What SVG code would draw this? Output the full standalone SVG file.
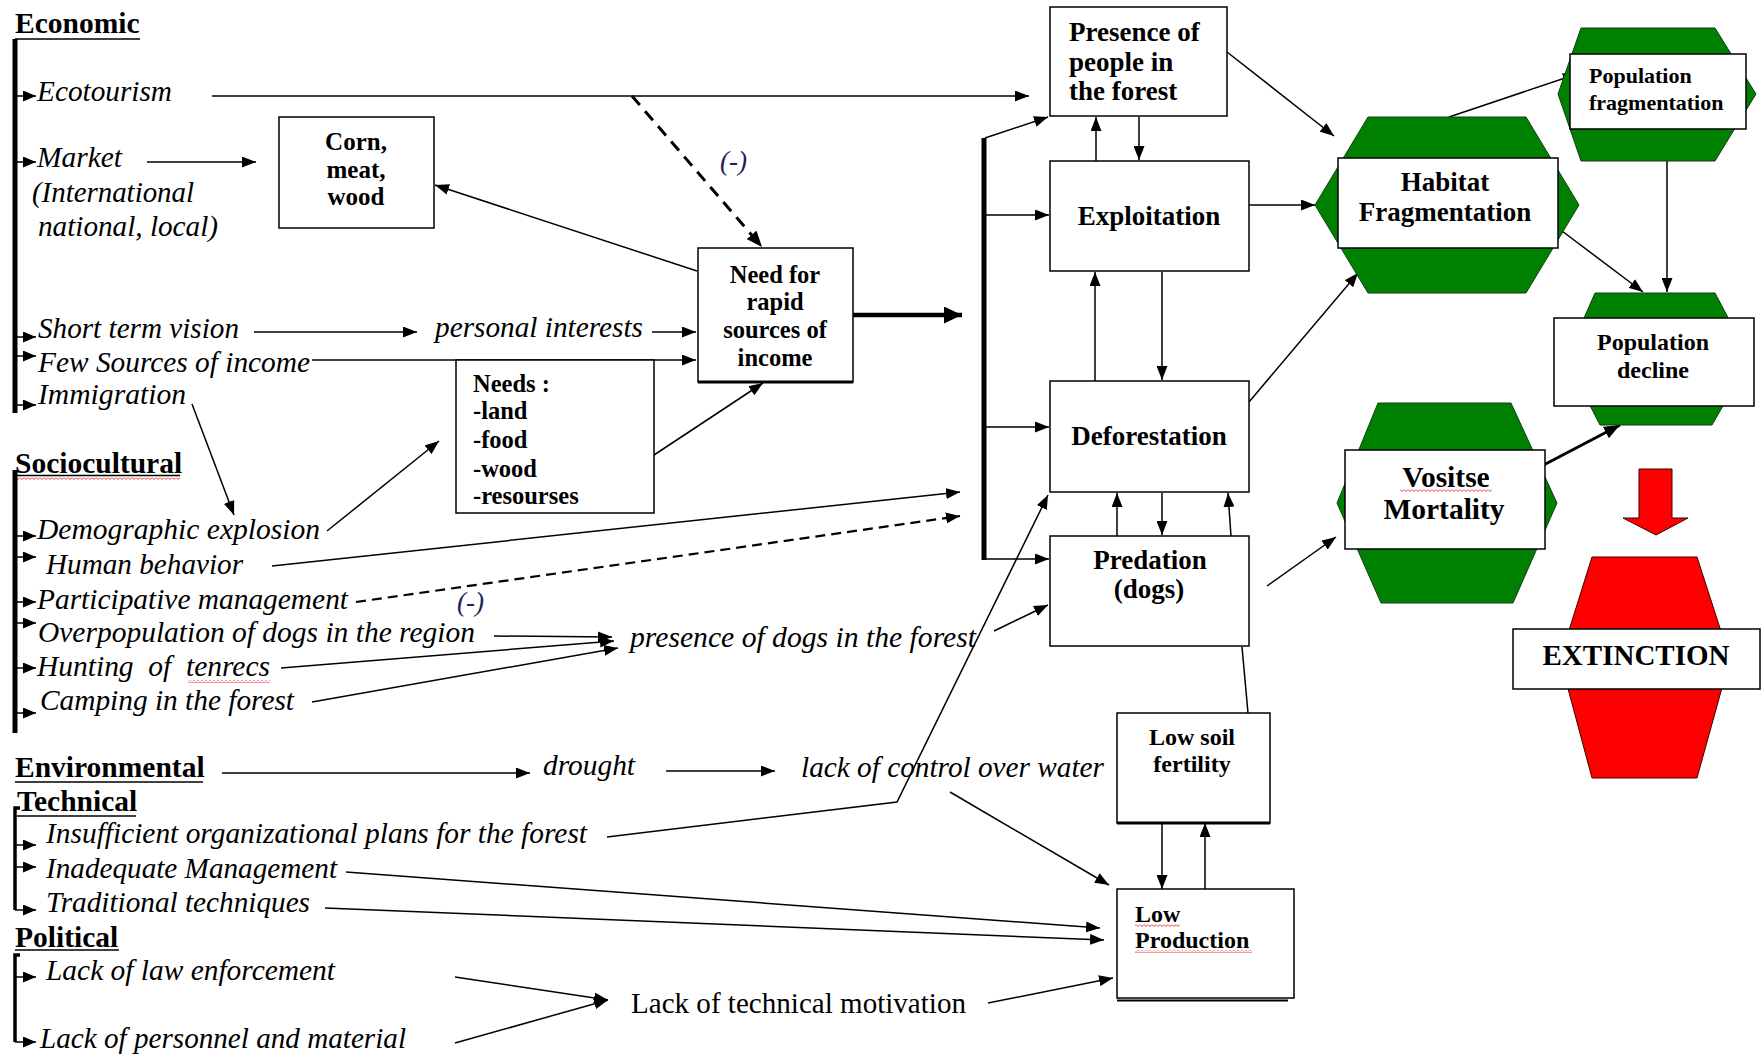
<svg xmlns="http://www.w3.org/2000/svg" width="1761" height="1054" viewBox="0 0 1761 1054">
<style>
.bg{fill:#fff}
.box{fill:#fff;stroke:#000;stroke-width:1.5}
.ln{stroke:#000;stroke-width:1.5;fill:none}
.a{marker-end:url(#ah)}
.as{marker-end:url(#ahs)}
.hd{font-family:"Liberation Serif",serif;font-weight:bold;font-size:29.5px;fill:#000}
.it{font-family:"Liberation Serif",serif;font-style:italic;font-size:29px;fill:#000}
.rg{font-family:"Liberation Serif",serif;font-size:29px;fill:#000}
.bt{font-family:"Liberation Serif",serif;font-weight:bold;fill:#000}
.mid{text-anchor:middle}
.gh{fill:#008000;stroke:#143d14;stroke-width:1}
.rh{fill:#ff0000;stroke:#3a0000;stroke-width:1}
.neg{font-family:"Liberation Serif",serif;font-style:italic;font-size:27px;fill:#22225a}
</style>
<defs>
<marker id="ah" viewBox="0 0 14 11" refX="14" refY="5.5" markerWidth="14" markerHeight="11" markerUnits="userSpaceOnUse" orient="auto"><path d="M0,0 L14,5.5 L0,11 z" fill="#000"/></marker>
<marker id="ahs" viewBox="0 0 13 11" refX="13" refY="5.5" markerWidth="13" markerHeight="11" markerUnits="userSpaceOnUse" orient="auto"><path d="M0,0 L13,5.5 L0,11 z" fill="#000"/></marker>
<marker id="ahb" viewBox="0 0 18 17" refX="18" refY="8.5" markerWidth="18" markerHeight="17" markerUnits="userSpaceOnUse" orient="auto"><path d="M0,0 L18,8.5 L0,17 z" fill="#000"/></marker>
<marker id="ahm" viewBox="0 0 16 13" refX="16" refY="6.5" markerWidth="16" markerHeight="13" markerUnits="userSpaceOnUse" orient="auto"><path d="M0,0 L16,6.5 L0,13 z" fill="#000"/></marker>
<pattern id="wv" width="4" height="3" patternUnits="userSpaceOnUse"><path d="M0,0.5 L2,2.5 L4,0.5" fill="none" stroke="#e00000" stroke-width="0.8"/></pattern>
</defs>
<rect class="bg" x="0" y="0" width="1761" height="1054"/>

<g id="connectors">
<path class="ln a" d="M212,96 H1029"/>
<path d="M632,96 L762,247" stroke="#000" stroke-width="3" stroke-dasharray="12 8" fill="none" marker-end="url(#ahm)"/>
<path class="ln a" d="M147,162 H256"/>
<path class="ln a" d="M697,271 L435,185"/>
<path class="ln a" d="M254,332 H417"/>
<path class="ln a" d="M652,332 H696"/>
<path class="ln a" d="M312,360 H696"/>
<path class="ln a" d="M192,404 L234,515"/>
<path class="ln a" d="M327,531 L439,441"/>
<path class="ln a" d="M654,455 L763,383"/>
<path d="M853,315 H962" stroke="#000" stroke-width="4.5" fill="none" marker-end="url(#ahb)"/>
<path d="M984,138 V560" stroke="#000" stroke-width="5" fill="none"/>
<path class="ln a" d="M985,138 L1048,117"/>
<path class="ln a" d="M984,215 H1049"/>
<path class="ln a" d="M984,427 H1049"/>
<path class="ln a" d="M984,559 H1049"/>
<path class="ln a" d="M272,566 L960,492"/>
<path d="M356,602 L960,516" stroke="#000" stroke-width="2.2" stroke-dasharray="10 6" fill="none" marker-end="url(#ah)"/>
<path class="ln a" d="M494,636 L612,637"/>
<path class="ln a" d="M281,668 L614,641"/>
<path class="ln a" d="M312,702 L618,648"/>
<path class="ln a" d="M994,631 L1048,605"/>
<path class="ln a" d="M222,773 H530"/>
<path class="ln a" d="M666,771 H775"/>
<path class="ln a" d="M607,837 L897,802 L1048,495"/>
<path class="ln a" d="M346,872 L1100,928"/>
<path class="ln a" d="M325,908 L1104,940"/>
<path class="ln a" d="M950,792 L1109,885"/>
<path class="ln a" d="M455,977 L608,1000"/>
<path class="ln a" d="M455,1043 L608,1000"/>
<path class="ln a" d="M988,1003 L1113,978"/>
<path class="ln a" d="M1162,823 V889"/>
<path class="ln a" d="M1205,889 V823"/>
<path class="ln" d="M1248,713 L1242,647"/>
<path class="ln a" d="M1231,536 L1228,493"/>
<path class="ln a" d="M1096,161 V117"/>
<path class="ln a" d="M1139,117 V160"/>
<path class="ln a" d="M1095,381 V272"/>
<path class="ln a" d="M1162,272 V380"/>
<path class="ln a" d="M1117,536 V493"/>
<path class="ln a" d="M1162,493 V535"/>
<path class="ln a" d="M1249,205 H1315"/>
<path class="ln a" d="M1227,52 L1334,136"/>
<path class="ln a" d="M1249,402 L1358,273"/>
<path class="ln a" d="M1267,586 L1336,537"/>
<path class="ln a" d="M1449,117 L1577,74"/>
<path class="ln a" d="M1558,228 L1643,292"/>
<path class="ln a" d="M1667,161 V292"/>
<path d="M1536,469 L1620,425" stroke="#000" stroke-width="3" fill="none" marker-end="url(#ahm)"/>
</g>

<g id="cat-economic">
<text class="hd" x="15" y="33">Economic</text>
<path class="ln" d="M15,39 H140"/>
<path d="M15,39 V413" stroke="#000" stroke-width="5" fill="none"/>
<path class="ln as" d="M15,96 H36"/>
<path class="ln as" d="M15,162 H36"/>
<path class="ln as" d="M15,337 H36"/>
<path class="ln as" d="M15,356 H36"/>
<path class="ln as" d="M15,405 H36"/>
<text class="it" x="37" y="101" textLength="135" lengthAdjust="spacingAndGlyphs">Ecotourism</text>
<text class="it" x="37" y="167" textLength="85" lengthAdjust="spacingAndGlyphs">Market</text>
<text class="it" x="32" y="202" textLength="162" lengthAdjust="spacingAndGlyphs">(International</text>
<text class="it" x="38" y="236" textLength="180" lengthAdjust="spacingAndGlyphs">national, local)</text>
<text class="it" x="38" y="338" textLength="201" lengthAdjust="spacingAndGlyphs">Short term vision</text>
<text class="it" x="38" y="372" textLength="272" lengthAdjust="spacingAndGlyphs">Few Sources of income</text>
<text class="it" x="38" y="404" textLength="148" lengthAdjust="spacingAndGlyphs">Immigration</text>
</g>

<g id="cat-sociocultural">
<text class="hd" x="15" y="473">Sociocultural</text>
<path class="ln" d="M15,475.5 H180"/>
<rect x="15" y="477" width="165" height="3" fill="url(#wv)"/>
<path d="M15,470 V733" stroke="#000" stroke-width="5" fill="none"/>
<path class="ln as" d="M15,536 H36"/>
<path class="ln as" d="M15,557 H36"/>
<path class="ln as" d="M15,602 H36"/>
<path class="ln as" d="M15,623 H36"/>
<path class="ln as" d="M15,668 H36"/>
<path class="ln as" d="M15,713 H36"/>
<text class="it" x="37" y="539" textLength="283" lengthAdjust="spacingAndGlyphs">Demographic explosion</text>
<text class="it" x="46" y="574" textLength="197" lengthAdjust="spacingAndGlyphs">Human behavior</text>
<text class="it" x="37" y="609" textLength="311" lengthAdjust="spacingAndGlyphs">Participative management</text>
<text class="it" x="38" y="642" textLength="437" lengthAdjust="spacingAndGlyphs">Overpopulation of dogs in the region</text>
<text class="it" x="37" y="676" style="white-space:pre" textLength="233" lengthAdjust="spacingAndGlyphs">Hunting  of  tenrecs</text>
<rect x="188" y="680" width="82" height="3" fill="url(#wv)"/>
<text class="it" x="40" y="710" textLength="254" lengthAdjust="spacingAndGlyphs">Camping in the forest</text>
</g>

<g id="cat-environmental">
<text class="hd" x="15" y="777">Environmental</text>
<path class="ln" d="M15,782 H203"/>
</g>

<g id="cat-technical">
<text class="hd" x="17" y="811">Technical</text>
<path class="ln" d="M17,816 H136"/>
<path d="M20,808 H15 V910" stroke="#000" stroke-width="3.5" fill="none"/>
<path class="ln as" d="M15,845 H36"/>
<path class="ln as" d="M15,867 H36"/>
<path class="ln as" d="M15,910 H36"/>
<text class="it" x="46" y="843" textLength="541" lengthAdjust="spacingAndGlyphs">Insufficient organizational plans for the forest</text>
<text class="it" x="46" y="878" textLength="291" lengthAdjust="spacingAndGlyphs">Inadequate Management</text>
<text class="it" x="46" y="912" textLength="264" lengthAdjust="spacingAndGlyphs">Traditional techniques</text>
</g>

<g id="cat-political">
<text class="hd" x="15" y="947">Political</text>
<path class="ln" d="M15,950 H119"/>
<path d="M20,955 H15 V1042" stroke="#000" stroke-width="3.5" fill="none"/>
<path class="ln as" d="M15,977 H36"/>
<path class="ln as" d="M15,1042 H36"/>
<text class="it" x="46" y="980" textLength="289" lengthAdjust="spacingAndGlyphs">Lack of law enforcement</text>
<text class="it" x="40" y="1048" textLength="366" lengthAdjust="spacingAndGlyphs">Lack of personnel and material</text>
</g>

<g id="labels">
<text class="it" x="435" y="337" textLength="208" lengthAdjust="spacingAndGlyphs">personal interests</text>
<text class="it" x="630" y="647" textLength="346" lengthAdjust="spacingAndGlyphs">presence of dogs in the forest</text>
<text class="it" x="543" y="775" textLength="92" lengthAdjust="spacingAndGlyphs">drought</text>
<text class="it" x="801" y="777" textLength="303" lengthAdjust="spacingAndGlyphs">lack of control over water</text>
<text class="rg" x="631" y="1013" textLength="335" lengthAdjust="spacingAndGlyphs">Lack of technical motivation</text>
<text class="neg" x="720" y="170">(-)</text>
<text class="neg" x="457" y="611">(-)</text>
</g>

<g id="node-corn">
<rect class="box" x="279" y="117" width="155" height="111"/>
<text class="bt mid" font-size="25" x="356" y="150">Corn,</text>
<text class="bt mid" font-size="25" x="356" y="177.5">meat,</text>
<text class="bt mid" font-size="25" x="356" y="205">wood</text>
</g>

<g id="node-needs">
<rect class="box" x="456" y="360" width="198" height="153"/>
<text class="bt" font-size="24.5" x="473" y="392">Needs :</text>
<text class="bt" font-size="24.5" x="473" y="419">-land</text>
<text class="bt" font-size="24.5" x="473" y="448">-food</text>
<text class="bt" font-size="24.5" x="473" y="477">-wood</text>
<text class="bt" font-size="24.5" x="473" y="504">-resourses</text>
</g>

<g id="node-need-income">
<rect class="box" x="698" y="248" width="155" height="134"/>
<path d="M698,382 H853" stroke="#000" stroke-width="3"/>
<text class="bt mid" font-size="24.5" x="775" y="283">Need for</text>
<text class="bt mid" font-size="24.5" x="775" y="310">rapid</text>
<text class="bt mid" font-size="24.5" x="775" y="338">sources of</text>
<text class="bt mid" font-size="24.5" x="775" y="366">income</text>
</g>

<g id="node-presence">
<rect class="box" x="1050" y="7" width="177" height="109"/>
<text class="bt" font-size="27" x="1069" y="41">Presence of</text>
<text class="bt" font-size="27" x="1069" y="71">people in</text>
<text class="bt" font-size="27" x="1069" y="100">the forest</text>
</g>

<g id="node-exploitation">
<rect class="box" x="1050" y="161" width="199" height="110"/>
<text class="bt mid" font-size="27" x="1149" y="225">Exploitation</text>
</g>

<g id="node-deforestation">
<rect class="box" x="1050" y="381" width="199" height="111"/>
<text class="bt mid" font-size="27" x="1149" y="445">Deforestation</text>
</g>

<g id="node-predation">
<rect class="box" x="1050" y="536" width="199" height="110"/>
<text class="bt mid" font-size="27" x="1150" y="569">Predation</text>
<text class="bt mid" font-size="27" x="1149" y="598">(dogs)</text>
</g>

<g id="node-low-soil">
<rect class="box" x="1117" y="713" width="153" height="110"/>
<path d="M1117,823 H1270" stroke="#000" stroke-width="3"/>
<text class="bt mid" font-size="24" x="1192" y="745">Low soil</text>
<text class="bt mid" font-size="24" x="1192" y="772">fertility</text>
</g>

<g id="node-low-production">
<rect class="box" x="1117" y="889" width="177" height="109"/>
<path d="M1117,1000.5 H1288" stroke="#000" stroke-width="2"/>
<text class="bt" font-size="24" x="1135" y="922">Low</text>
<text class="bt" font-size="24" x="1135" y="948">Production</text>
<rect x="1135" y="924" width="45" height="3" fill="url(#wv)"/>
<rect x="1135" y="950" width="117" height="3" fill="url(#wv)"/>
</g>

<g id="node-habitat">
<polygon class="gh" points="1368,117 1526,117 1579,205 1526,293 1368,293 1315,205"/>
<rect class="box" x="1338" y="158" width="220" height="90"/>
<text class="bt mid" font-size="27" x="1445" y="191">Habitat</text>
<text class="bt mid" font-size="27" x="1445" y="221">Fragmentation</text>
</g>

<g id="node-pop-fragmentation">
<polygon class="gh" points="1581,28 1715,28 1756,94 1715,161 1581,161 1558,94"/>
<rect class="box" x="1570" y="54" width="176" height="75"/>
<text class="bt" font-size="22" x="1589" y="83">Population</text>
<text class="bt" font-size="22" x="1589" y="110">fragmentation</text>
</g>

<g id="node-pop-decline">
<polygon class="gh" points="1595,293 1715,293 1750,359 1712,425 1600,425 1566,359"/>
<rect class="box" x="1554" y="318" width="200" height="88"/>
<text class="bt mid" font-size="24" x="1653" y="350">Population</text>
<text class="bt mid" font-size="24" x="1653" y="378">decline</text>
</g>

<g id="node-vositse">
<polygon class="gh" points="1378,403 1511,403 1557,503 1513,603 1381,603 1337,503"/>
<rect class="box" x="1345" y="450" width="200" height="99"/>
<text class="bt mid" font-size="29.5" x="1446" y="487">Vositse</text>
<rect x="1400" y="489" width="92" height="3" fill="url(#wv)"/>
<text class="bt mid" font-size="29.5" x="1444" y="519">Mortality</text>
</g>

<g id="node-red-arrow">
<polygon class="rh" points="1639,469 1672,469 1672,518 1688,518 1656,535 1623,518 1639,518"/>
</g>

<g id="node-extinction">
<polygon class="rh" points="1592,557 1697,557 1730,659 1697,778 1592,778 1560,659"/>
<rect class="box" x="1513" y="629" width="247" height="60"/>
<text class="bt mid" font-size="29" x="1636" y="665">EXTINCTION</text>
</g>
</svg>
